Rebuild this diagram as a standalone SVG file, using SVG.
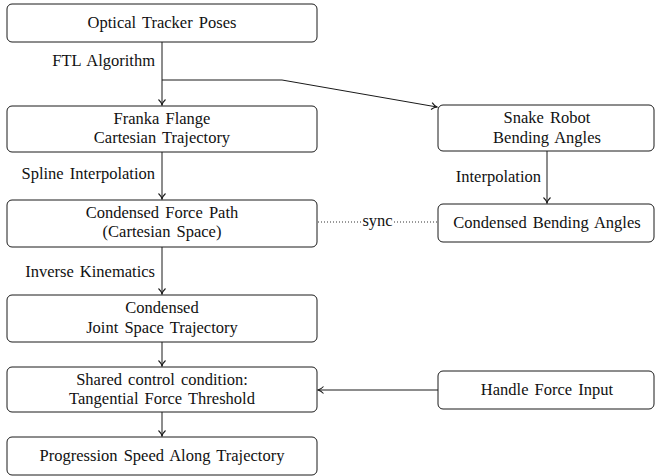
<svg xmlns="http://www.w3.org/2000/svg" width="655" height="476" viewBox="0 0 655 476">
<style>
.box{fill:#fff;stroke:#1a1a1a;stroke-width:1}
text{font-family:'Liberation Serif','Times New Roman','DejaVu Serif',serif;font-size:16.5px;word-spacing:2px;fill:#111}
.t{text-anchor:middle}
.l{text-anchor:end}
.c{fill:none;stroke:#1a1a1a;stroke-width:1}
.d{fill:none;stroke:#333;stroke-width:1;stroke-dasharray:1 2}
</style>
<defs>
<marker id="ah" markerWidth="10" markerHeight="10" refX="7" refY="5" orient="auto" markerUnits="userSpaceOnUse">
<path d="M1.5,1.5 Q4,4.2 7,5 Q4,5.8 1.5,8.5" fill="none" stroke="#1a1a1a" stroke-width="1.1"/>
</marker>
</defs>
<g id="connectors">
<path class="c" d="M162,42 V105" marker-end="url(#ah)"/>
<path class="c" d="M162,80 H282 L437,107" marker-end="url(#ah)"/>
<path class="c" d="M162,152 V199" marker-end="url(#ah)"/>
<path class="c" d="M162,247 V294" marker-end="url(#ah)"/>
<path class="c" d="M162,342 V366" marker-end="url(#ah)"/>
<path class="c" d="M162,412 V436" marker-end="url(#ah)"/>
<path class="c" d="M547,151 V203" marker-end="url(#ah)"/>
<path class="c" d="M438,390 H318" marker-end="url(#ah)"/>
<path class="d" d="M318,222 H361"/>
<path class="d" d="M394,222 H437"/>
<text class="t" x="377.5" y="226">sync</text>
<text class="l" x="155" y="66">FTL Algorithm</text>
<text class="l" x="155" y="179">Spline Interpolation</text>
<text class="l" x="155" y="277">Inverse Kinematics</text>
<text class="l" x="541" y="182">Interpolation</text>
</g>
<g id="optical">
<rect class="box" x="7" y="4" width="310" height="38" rx="5"/>
<text class="t" x="162" y="28">Optical Tracker Poses</text>
</g>
<g id="franka">
<rect class="box" x="7" y="106" width="310" height="46" rx="5"/>
<text class="t" x="162" y="124">Franka Flange</text>
<text class="t" x="162" y="143">Cartesian Trajectory</text>
</g>
<g id="forcepath">
<rect class="box" x="7" y="200" width="310" height="47" rx="5"/>
<text class="t" x="162" y="218">Condensed Force Path</text>
<text class="t" x="162" y="237">(Cartesian Space)</text>
</g>
<g id="joint">
<rect class="box" x="7" y="295" width="310" height="47" rx="5"/>
<text class="t" x="162" y="313">Condensed</text>
<text class="t" x="162" y="333">Joint Space Trajectory</text>
</g>
<g id="shared">
<rect class="box" x="7" y="367" width="310" height="45" rx="5"/>
<text class="t" x="162" y="385">Shared control condition:</text>
<text class="t" x="162" y="404">Tangential Force Threshold</text>
</g>
<g id="progression">
<rect class="box" x="7" y="437" width="310" height="38" rx="5"/>
<text class="t" x="162" y="461">Progression Speed Along Trajectory</text>
</g>
<g id="snake">
<rect class="box" x="438" y="105" width="216" height="46" rx="5"/>
<text class="t" x="547" y="123">Snake Robot</text>
<text class="t" x="547" y="143">Bending Angles</text>
</g>
<g id="bending">
<rect class="box" x="438" y="204" width="216" height="38" rx="5"/>
<text class="t" x="547" y="228">Condensed Bending Angles</text>
</g>
<g id="handle">
<rect class="box" x="438" y="371" width="216" height="38" rx="5"/>
<text class="t" x="547" y="395">Handle Force Input</text>
</g>
</svg>
